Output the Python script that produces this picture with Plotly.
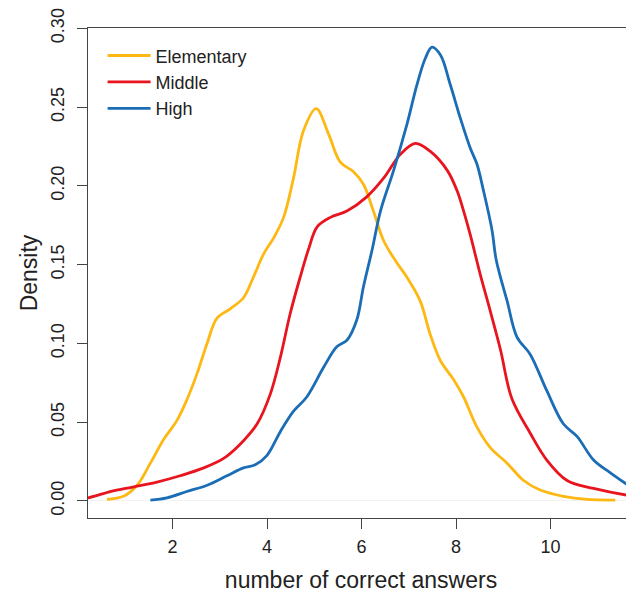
import plotly.graph_objects as go

# Kernel density estimates
elem_x = [0.61, 0.96, 1.25, 1.53, 1.81, 2.09, 2.30, 2.52, 2.73, 2.94, 3.22, 3.50, 3.71, 3.93,
          4.14, 4.35, 4.56, 4.77, 5.04, 5.30, 5.55, 5.83, 6.04, 6.25, 6.47, 6.75, 6.96, 7.24,
          7.45, 7.67, 7.95, 8.16, 8.44, 8.72, 9.08, 9.43, 9.78, 10.27, 10.77, 11.37]
elem_y = [0.001, 0.003, 0.010, 0.024, 0.039, 0.051, 0.064, 0.081, 0.100, 0.116, 0.122, 0.129,
          0.142, 0.157, 0.167, 0.180, 0.205, 0.235, 0.249, 0.233, 0.215, 0.209, 0.201, 0.184,
          0.165, 0.151, 0.142, 0.127, 0.106, 0.089, 0.077, 0.066, 0.047, 0.034, 0.024, 0.013,
          0.007, 0.003, 0.001, 0.0006]

mid_x = [-0.2, 0.21, 0.68, 1.18, 1.67, 2.16, 2.66, 3.08, 3.43, 3.79, 4.07, 4.28, 4.49, 4.70,
         4.88, 5.06, 5.34, 5.69, 6.11, 6.47, 6.82, 7.14, 7.45, 7.81, 8.02, 8.16, 8.30, 8.51,
         8.72, 8.94, 9.18, 9.57, 9.92, 10.35, 10.91, 11.77, 12.1]
mid_y = [0.001, 0.002, 0.006, 0.009, 0.012, 0.016, 0.021, 0.027, 0.036, 0.049, 0.068, 0.091,
         0.119, 0.142, 0.160, 0.174, 0.180, 0.184, 0.193, 0.205, 0.220, 0.227, 0.222, 0.210,
         0.197, 0.184, 0.169, 0.144, 0.121, 0.096, 0.065, 0.043, 0.026, 0.013, 0.008, 0.003,
         0.002]

high_x = [1.53, 1.88, 2.30, 2.73, 3.15, 3.50, 3.75, 4.00, 4.28, 4.56, 4.84, 5.20, 5.48, 5.69,
          5.90, 6.04, 6.22, 6.40, 6.68, 6.96, 7.17, 7.35, 7.49, 7.67, 7.88, 8.09, 8.30, 8.44,
          8.58, 8.76, 8.85, 9.08, 9.29, 9.57, 9.92, 10.27, 10.56, 10.91, 11.26, 11.76, 12.1]
high_y = [0.0006, 0.002, 0.006, 0.010, 0.016, 0.021, 0.023, 0.029, 0.044, 0.057, 0.066, 0.085,
          0.098, 0.102, 0.115, 0.136, 0.159, 0.184, 0.210, 0.239, 0.264, 0.281, 0.288, 0.283,
          0.264, 0.243, 0.224, 0.214, 0.197, 0.172, 0.153, 0.127, 0.104, 0.093, 0.070, 0.049,
          0.041, 0.026, 0.018, 0.008, 0.004]

series_names = ["Elementary", "Middle", "High"]
series_colors = ["#FDB813", "#E8141E", "#1B6DB5"]
x_ticks = [2, 4, 6, 8, 10]
y_ticks = [0.00, 0.05, 0.10, 0.15, 0.20, 0.25, 0.30]

fig = go.Figure()
for name, xs, ys, col in zip(series_names, [elem_x, mid_x, high_x],
                             [elem_y, mid_y, high_y], series_colors):
    fig.add_trace(go.Scatter(x=xs, y=ys, mode="lines", name=name,
                             line=dict(color=col, width=2.8, shape="spline", smoothing=1.0)))

axis_col = "#444444"
fig.update_layout(
    width=626, height=585,
    margin=dict(l=80, r=0, t=20, b=75),
    paper_bgcolor="white", plot_bgcolor="white",
    font=dict(family="Arial, Liberation Sans, sans-serif", size=18, color="#222222"),
    showlegend=True,
    legend=dict(x=0.0267, y=0.981, xanchor="left", yanchor="top",
                bgcolor="rgba(0,0,0,0)", font=dict(size=18, color="#222222"),
                itemwidth=43, tracegroupgap=0),
    xaxis=dict(range=[0.21, 11.766], tickvals=x_ticks, ticktext=[str(v) for v in x_ticks],
               showgrid=False, zeroline=False, showline=True, linecolor=axis_col, linewidth=1.3,
               mirror=True, ticks="outside", ticklen=10, tickcolor=axis_col, tickwidth=1.3,
               ticklabelstandoff=2,
               title=dict(text="number of correct answers", font=dict(size=23), standoff=20),
               automargin=False),
    yaxis=dict(range=[-0.0108, 0.3002], tickvals=y_ticks, ticktext=[f"{v:.2f}" for v in y_ticks],
               tickangle=-90, showgrid=False, zeroline=True, zerolinecolor="#f2f2f2",
               zerolinewidth=1, showline=True, linecolor=axis_col, linewidth=1.3,
               ticks="outside", ticklen=10, tickcolor=axis_col, tickwidth=1.3,
               ticklabelstandoff=6,
               title=dict(text="Density", font=dict(size=23), standoff=3),
               automargin=False),
)

fig.write_html("out.html")
